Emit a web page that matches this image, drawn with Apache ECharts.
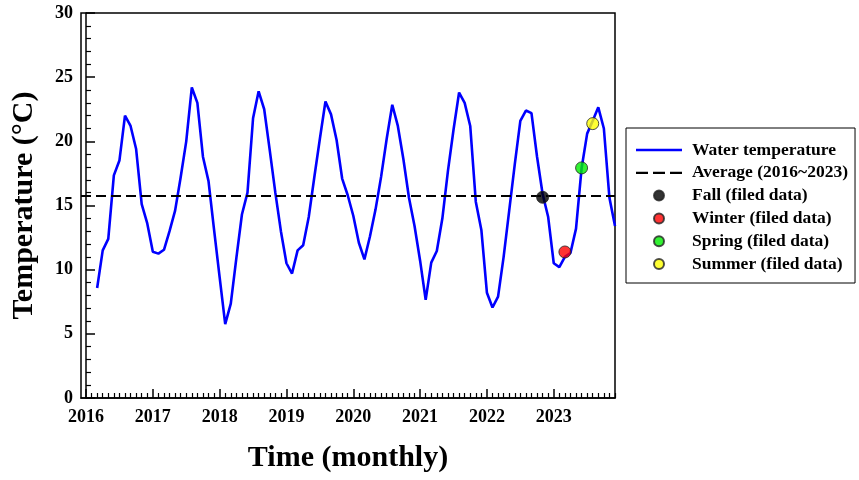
<!DOCTYPE html>
<html><head><meta charset="utf-8">
<script src="https://cdn.jsdelivr.net/npm/echarts@6/dist/echarts.min.js"></script>
<style>html,body{margin:0;padding:0;background:#fff}#c{width:859px;height:480px}</style>
</head><body><div id="c"></div>
<script>
// x positions are months counted from January 2016 (0 = Jan 2016)
const yearLabels = ['2016','2017','2018','2019','2020','2021','2022','2023'];
const firstMonth = 2; // first observation: March 2016
const waterTemp = [
  8.57, 11.5, 12.4, 17.35, 18.5, 22.0, 21.2, 19.4, 15.1, 13.6,          // Mar-Dec 2016
  11.4, 11.25, 11.55, 13.0, 14.6, 17.2, 20.0, 24.2, 23.0, 18.8, 16.9, 13.1, // 2017
  9.4, 5.75, 7.35, 10.9, 14.3, 16.0, 21.8, 23.9, 22.5, 19.3, 16.0, 13.0,   // 2018
  10.5, 9.7, 11.5, 11.9, 14.1, 17.2, 20.2, 23.1, 22.1, 20.1, 17.1, 15.8,   // 2019
  14.2, 12.1, 10.8, 12.6, 14.7, 17.25, 20.2, 22.85, 21.2, 18.6, 15.6, 13.4, // 2020
  10.7, 7.65, 10.55, 11.45, 14.0, 17.7, 20.9, 23.8, 23.0, 21.2, 15.3, 13.1, // 2021
  8.2, 7.05, 7.9, 11.0, 14.6, 18.2, 21.6, 22.4, 22.2, 18.8, 15.9, 14.1,    // 2022
  10.5, 10.2, 11.0, 11.3, 13.2, 17.9, 20.6, 21.6, 22.65, 21.0, 15.6, 13.4  // 2023
];
const averageTemp = 15.75;
const fieldNames = ['Fall (filed data)','Winter (filed data)','Spring (filed data)','Summer (filed data)'];
const fieldMonth = [82, 86, 89, 91];
const fieldTemp = [15.64, 11.38, 17.93, 21.38];

const xMin = -0.9, xMax = 95;
const lineData = waterTemp.map((v, i) => [firstMonth + i, v]);
const majorTicks = yearLabels.map((y, i) => i * 12);
const minorTicks = [];
for (let m = 0; m <= 95; m++) if (m % 12 !== 0) minorTicks.push(m);

const font = 'Liberation Serif, Times New Roman, serif';
const dotColors = ['#000000', '#ff0000', '#00ee00', '#ffff00'];
const solidIcon = 'path://M0,0H46V2.5H0Z';
const dashIcon = 'path://M0,0H12V2.2H0Z M17,0H29V2.2H17Z M34,0H46V2.2H34Z';

const chart = echarts.init(document.getElementById('c'), null, {renderer: 'canvas'});
const fieldSeries = fieldNames.map((n, i) => ({
  name: n, type: 'scatter', symbol: 'circle', symbolSize: 12,
  data: [[fieldMonth[i], fieldTemp[i]]],
  itemStyle: {color: dotColors[i], borderColor: '#222', borderWidth: 1},
  z: 5
}));

chart.setOption({
  animation: false,
  backgroundColor: '#fff',
  grid: {left: 81, top: 13, right: 244, bottom: 82, show: true, borderColor: '#000', borderWidth: 1.5, backgroundColor: 'transparent'},
  legend: {
    orient: 'vertical', left: 626, top: 128,
    padding: [13, 7, 10, 10], itemGap: 4.8,
    itemWidth: 46, itemHeight: 10,
    borderColor: '#000', borderWidth: 1, backgroundColor: '#fff',
    textStyle: {fontFamily: font, fontWeight: 'bold', fontSize: 17.5, color: '#000', padding: [0, 0, 0, 5]},
    data: [
      {name: 'Water temperature', icon: solidIcon, itemStyle: {color: '#0000ff'}},
      {name: 'Average (2016~2023)', icon: dashIcon, itemStyle: {color: '#000'}}
    ].concat(fieldNames.map(n => ({name: n, icon: 'circle'})))
  },
  xAxis: [{
    type: 'value', min: xMin, max: xMax, position: 'bottom',
    name: 'Time (monthly)', nameLocation: 'middle', nameGap: 45,
    nameTextStyle: {fontFamily: font, fontWeight: 'bold', fontSize: 30, color: '#000'},
    axisLine: {show: true, lineStyle: {color: '#000', width: 1.5}},
    axisTick: {show: true, inside: true, length: 9, customValues: majorTicks, lineStyle: {color: '#000', width: 1.5}},
    axisLabel: {show: true, customValues: majorTicks, margin: 10, color: '#000', fontFamily: font, fontWeight: 'bold', fontSize: 18,
      formatter: v => yearLabels[Math.round(v / 12)] || ''},
    splitLine: {show: false}
  }, {
    type: 'value', min: xMin, max: xMax, position: 'bottom',
    axisLine: {show: false},
    axisTick: {show: true, inside: true, length: 5, customValues: minorTicks, lineStyle: {color: '#000', width: 1.2}},
    axisLabel: {show: false},
    splitLine: {show: false}
  }],
  yAxis: {
    type: 'value', min: 0, max: 30, interval: 5,
    name: 'Temperature (\u00B0C)', nameLocation: 'middle', nameGap: 42, nameRotate: 90,
    nameTextStyle: {fontFamily: font, fontWeight: 'bold', fontSize: 30, color: '#000'},
    axisLine: {show: true, lineStyle: {color: '#000', width: 1.5}},
    axisTick: {show: true, inside: true, length: 9, lineStyle: {color: '#000', width: 1.5}},
    minorTick: {show: true, splitNumber: 5, length: 5, lineStyle: {color: '#000', width: 1.2}},
    axisLabel: {margin: 8, color: '#000', fontFamily: font, fontWeight: 'bold', fontSize: 18},
    splitLine: {show: false}
  },
  series: [{
    name: 'Water temperature', type: 'line', data: lineData,
    symbol: 'none', showSymbol: false,
    lineStyle: {color: '#0000ff', width: 2.6}, itemStyle: {color: '#0000ff'},
    z: 2
  }, {
    name: 'Average (2016~2023)', type: 'line',
    data: [[xMin, averageTemp], [xMax, averageTemp]],
    symbol: 'none', showSymbol: false,
    lineStyle: {color: '#000', width: 2, type: [10, 5]}, itemStyle: {color: '#000'},
    z: 3
  }].concat(fieldSeries)
});
</script>
</body></html>
